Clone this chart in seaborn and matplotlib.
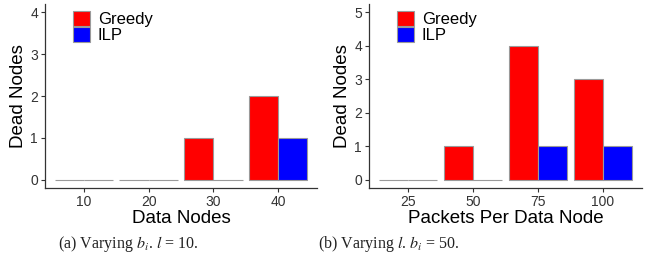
import matplotlib
matplotlib.use("Agg")
import matplotlib.pyplot as plt
import seaborn as sns
import pandas as pd

# data
cats_a = ["10", "20", "30", "40"]
greedy_a = [0, 0, 1, 2]
ilp_a = [0, 0, 0, 1]

cats_b = ["25", "50", "75", "100"]
greedy_b = [0, 1, 4, 3]
ilp_b = [0, 0, 1, 1]

methods = ["Greedy", "ILP"]
colors = {"Greedy": "#ff0000", "ILP": "#0000ff"}

sns.set_theme(style="white")
plt.rcParams["font.family"] = ["Liberation Sans", "DejaVu Sans"]
plt.rcParams["mathtext.fontset"] = "stix"

fig = plt.figure(figsize=(6.57, 2.64), dpi=100)
ax1 = fig.add_axes([45/657, 76/264, 272/657, 184/264])
ax2 = fig.add_axes([369/657, 76/264, 273/657, 184/264])

def make_df(cats, g, i):
    return pd.DataFrame({
        "cat": cats + cats,
        "val": g + i,
        "method": ["Greedy"] * len(cats) + ["ILP"] * len(cats),
    })

panels = [
    (ax1, make_df(cats_a, greedy_a, ilp_a), "Data Nodes", 4),
    (ax2, make_df(cats_b, greedy_b, ilp_b), "Packets Per Data Node", 5),
]

for ax, df, xlabel, ymax in panels:
    sns.barplot(data=df, x="cat", y="val", hue="method", hue_order=methods,
                palette=colors, saturation=1, width=0.9, ax=ax,
                edgecolor="#9a9a9a", linewidth=0.8, errorbar=None)
    ax.set_xlim(-0.6, 3.6)
    ax.set_ylim(-0.05 * ymax, 1.05 * ymax)
    ax.set_yticks(range(0, ymax + 1))
    ax.set_xlabel(xlabel, fontsize=13.5, color="black", labelpad=1)
    ax.set_ylabel("Dead Nodes", fontsize=13.5, color="black", labelpad=2)
    ax.tick_params(axis="both", labelsize=10, colors="#333333", length=3,
                   width=0.8, pad=2, direction="out", bottom=True, left=True)
    for lab in ax.get_xticklabels() + ax.get_yticklabels():
        lab.set_color("#333333")
    for s in ["top", "right"]:
        ax.spines[s].set_visible(False)
    for s in ["left", "bottom"]:
        ax.spines[s].set_color("#333333")
        ax.spines[s].set_linewidth(0.9)
    leg = ax.legend(loc="upper left", bbox_to_anchor=(0.078, 1.0), frameon=False,
                    fontsize=12, handlelength=1.0, handleheight=1.0,
                    labelspacing=0.0, handletextpad=0.5, borderaxespad=0)
    for t in leg.get_texts():
        t.set_color("black")

fig.text(128/657, 20/264, r"(a) Varying $b_i$. $l$ = 10.", ha="center", va="center",
         fontsize=11.5, family=["Liberation Serif", "DejaVu Serif"], color="#222222")
fig.text(389/657, 20/264, r"(b) Varying $l$. $b_i$ = 50.", ha="center", va="center",
         fontsize=11.5, family=["Liberation Serif", "DejaVu Serif"], color="#222222")

fig.savefig("out.png", dpi=100)
